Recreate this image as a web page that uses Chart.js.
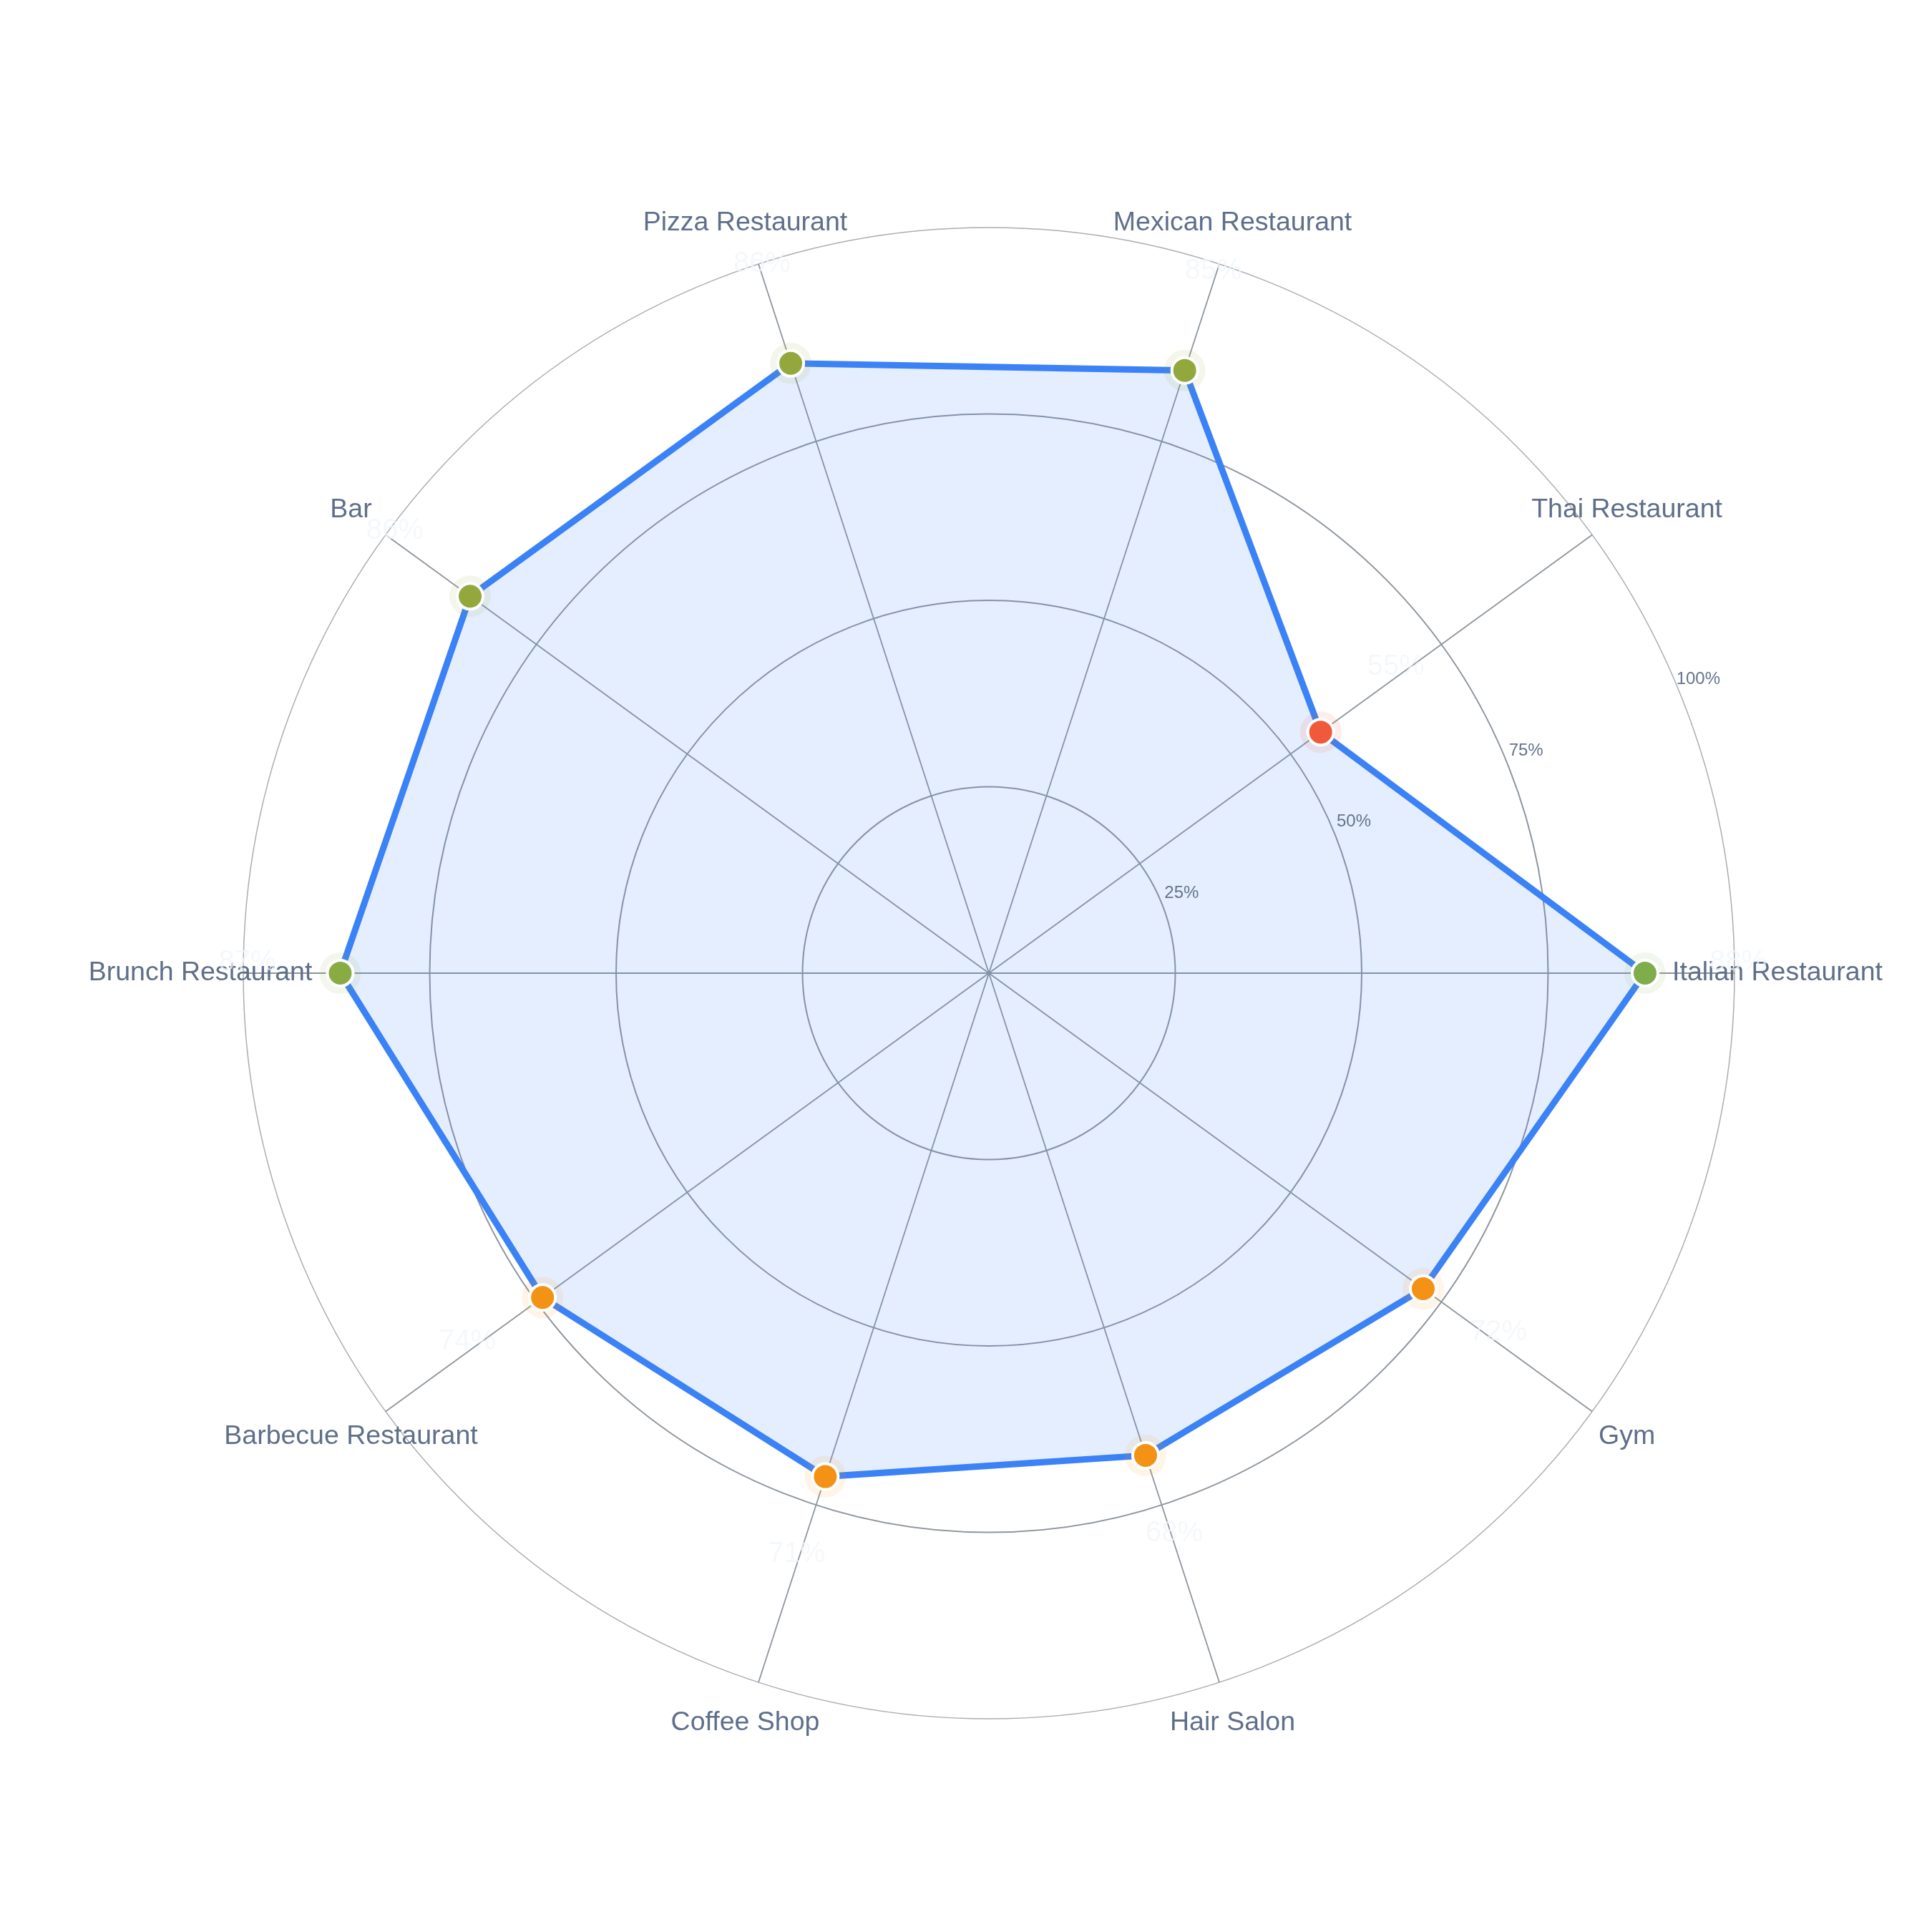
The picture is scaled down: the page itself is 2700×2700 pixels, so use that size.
<!DOCTYPE html>
<html>
<head>
<meta charset="utf-8">
<script src="https://cdn.jsdelivr.net/npm/chart.js@4.4.1/dist/chart.umd.min.js"></script>
<style>
html,body{margin:0;padding:0;background:#ffffff;}
#wrap{width:2700px;height:2700px;position:relative;}
</style>
</head>
<body>
<div id="wrap"><canvas id="c" width="2700" height="2700"></canvas></div>
<script>
// ---- data (read counter-clockwise from the east axis) ----
const categories = ["Italian Restaurant","Thai Restaurant","Mexican Restaurant","Pizza Restaurant","Bar","Brunch Restaurant","Barbecue Restaurant","Coffee Shop","Hair Salon","Gym"];
const scores = [88, 55, 85, 86, 86, 87, 74, 71, 68, 72];
const radialTicks = [25, 50, 75, 100];
const tickLabels = ["25%", "50%", "75%", "100%"];

// Chart.js goes clockwise; reference goes counter-clockwise starting at east
const order = [0, 9, 8, 7, 6, 5, 4, 3, 2, 1];
const labels = order.map(i => categories[i]);
const values = order.map(i => scores[i]);

function markerColor(v) {
  if (v >= 88) return '#7fad4b';
  if (v >= 87) return '#89ab44';
  if (v >= 80) return '#93a83c';
  if (v >= 60) return '#f39214';
  return '#ef5a3b';
}
function haloColor(v) {
  const c = markerColor(v);
  const r = parseInt(c.slice(1,3),16), g = parseInt(c.slice(3,5),16), b = parseInt(c.slice(5,7),16);
  return `rgba(${r},${g},${b},0.10)`;
}

const FONT = '"Liberation Sans", Arial, Helvetica, sans-serif';

const labelPlugin = {
  id: 'customLabels',
  afterDatasetsDraw(chart) {
    const s = chart.scales.r;
    const ctx = chart.ctx;
    ctx.save();
    ctx.textAlign = 'center';
    ctx.textBaseline = 'middle';
    // radial tick labels along 22.5 degrees
    ctx.font = '24px ' + FONT;
    ctx.fillStyle = '#64748b';
    const a = -22.5 * Math.PI / 180;
    radialTicks.forEach((v, i) => {
      const r = s.getDistanceFromCenterForValue(v) + 31;
      ctx.fillText(tickLabels[i], s.xCenter + r * Math.cos(a), s.yCenter + r * Math.sin(a));
    });
    // category labels
    ctx.font = '37.5px ' + FONT;
    ctx.fillStyle = '#5f6f8a';
    chart.data.labels.forEach((lab, i) => {
      const p = s.getPointPosition(i, s.drawingArea + 60);
      ctx.fillText(lab, p.x, p.y);
    });
    // value labels (near-white)
    ctx.font = '40px ' + FONT;
    ctx.fillStyle = 'rgba(241,245,249,0.75)';
    values.forEach((v, i) => {
      const p = s.getPointPosition(i, s.getDistanceFromCenterForValue(v) + 130);
      ctx.fillText(v + '%', p.x, p.y - 15);
    });
    ctx.restore();
  }
};

new Chart(document.getElementById('c'), {
  type: 'radar',
  data: {
    labels: labels,
    datasets: [
      {
        data: values,
        borderColor: '#3b82f6',
        backgroundColor: 'rgba(59,130,246,0.135)',
        borderWidth: 9,
        fill: true,
        pointRadius: 0,
        pointHoverRadius: 0,
        order: 3
      },
      {
        data: values,
        showLine: false,
        fill: false,
        pointRadius: 29,
        pointBorderWidth: 0,
        pointBackgroundColor: values.map(haloColor),
        pointHoverRadius: 29,
        order: 2
      },
      {
        data: values,
        showLine: false,
        fill: false,
        pointRadius: 18,
        pointBorderWidth: 4,
        pointBorderColor: '#ffffff',
        pointBackgroundColor: values.map(markerColor),
        pointHoverRadius: 18,
        order: 1
      }
    ]
  },
  options: {
    responsive: false,
    devicePixelRatio: 1,
    animation: false,
    layout: { padding: { left: 340, right: 276, top: 318, bottom: 298 } },
    plugins: { legend: { display: false }, tooltip: { enabled: false } },
    scales: {
      r: {
        min: 0,
        max: 100,
        startAngle: 90,
        ticks: { display: false, stepSize: 25 },
        pointLabels: { display: false },
        grid: {
          circular: true,
          color: (ctx) => (ctx.tick && ctx.tick.value === 100) ? '#a9adb3' : '#8e959e',
          lineWidth: (ctx) => (ctx.tick && ctx.tick.value === 100) ? 1.5 : 2
        },
        angleLines: { color: '#8e959e', lineWidth: 1.8 }
      }
    }
  },
  plugins: [labelPlugin]
});
</script>
</body>
</html>
